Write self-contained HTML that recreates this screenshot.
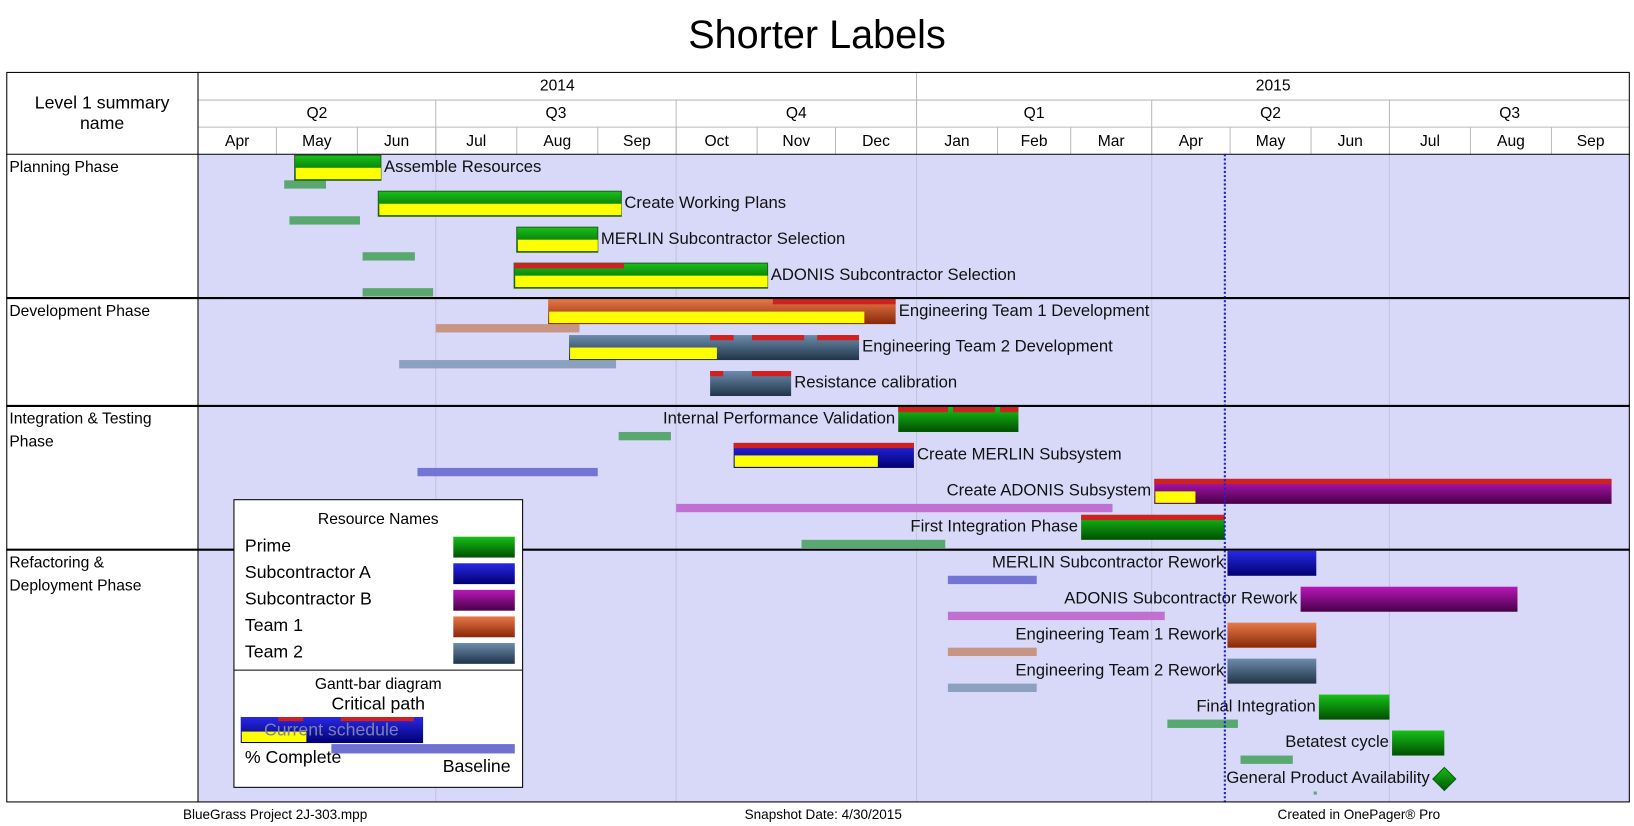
<!DOCTYPE html>
<html><head><meta charset="utf-8"><style>
body{margin:0;background:#fff;width:1634px;height:826px;overflow:hidden;font-family:"Liberation Sans",sans-serif}
svg{display:block}
svg text{font-family:"Liberation Sans",sans-serif}
</style></head><body>
<svg id="g" width="1634" height="826" viewBox="0 0 1568 792.6" preserveAspectRatio="none" xmlns="http://www.w3.org/2000/svg">
<defs>
<linearGradient id="gPrime" x1="0" y1="0" x2="0" y2="1"><stop offset="0" stop-color="#18c018"/><stop offset="1" stop-color="#005000"/></linearGradient>
<linearGradient id="gSubA" x1="0" y1="0" x2="0" y2="1"><stop offset="0" stop-color="#2828e8"/><stop offset="1" stop-color="#000070"/></linearGradient>
<linearGradient id="gSubB" x1="0" y1="0" x2="0" y2="1"><stop offset="0" stop-color="#b818b8"/><stop offset="1" stop-color="#480048"/></linearGradient>
<linearGradient id="gTeam1" x1="0" y1="0" x2="0" y2="1"><stop offset="0" stop-color="#e87848"/><stop offset="1" stop-color="#882808"/></linearGradient>
<linearGradient id="gTeam2" x1="0" y1="0" x2="0" y2="1"><stop offset="0" stop-color="#6c8cac"/><stop offset="1" stop-color="#203448"/></linearGradient>
</defs>
<text x="784" y="46" font-size="38" text-anchor="middle">Shorter Labels</text>
<rect x="190" y="148" width="1374" height="622" fill="#d8d8f8"/>
<g id="grid"></g>
<g id="hdr"></g>
<g id="bars"></g>
<rect x="6.5" y="69.5" width="1557" height="700" fill="none" stroke="#000"/>
<line x1="190" y1="69" x2="190" y2="770" stroke="#000"/>
<text x="98" y="104" font-size="17" text-anchor="middle">Level 1 summary</text>
<text x="98" y="124" font-size="17" text-anchor="middle">name</text>
<g id="phases"></g>
<g>
<rect x="224.5" y="479.5" width="277" height="276" fill="#fff" stroke="#000"/>
<text x="363" y="503" font-size="15" text-anchor="middle">Resource Names</text>
<g id="legend"></g>
<line x1="225" y1="643" x2="501" y2="643" stroke="#000"/>
<text x="363" y="661" font-size="15" text-anchor="middle">Gantt-bar diagram</text>
<text x="363" y="681" font-size="17" text-anchor="middle">Critical path</text>
<rect x="231" y="688" width="175" height="25" fill="url(#gSubA)"/>
<rect x="267" y="688" width="24" height="4" fill="#d02020"/><rect x="327" y="688" width="70" height="4" fill="#d02020"/>
<rect x="232" y="702" width="62" height="10" fill="#ffff00"/>
<text x="318" y="706" font-size="17" fill="#8080b0" text-anchor="middle">Current schedule</text>
<rect x="318" y="714" width="176" height="9" fill="#7070d0"/>
<text x="235" y="732" font-size="17">% Complete</text>
<text x="490" y="741" font-size="17" text-anchor="end">Baseline</text>
</g>
<text x="264" y="786" font-size="13" text-anchor="middle">BlueGrass Project 2J-303.mpp</text>
<text x="790" y="786" font-size="13" text-anchor="middle">Snapshot Date: 4/30/2015</text>
<text x="1304" y="786" font-size="13" text-anchor="middle">Created in OnePager® Pro</text>
</svg>
<script>
const taskNames=["Assemble Resources","Create Working Plans","MERLIN Subcontractor Selection","ADONIS Subcontractor Selection","Engineering Team 1 Development","Engineering Team 2 Development","Resistance calibration","Internal Performance Validation","Create MERLIN Subsystem","Create ADONIS Subsystem","First Integration Phase","MERLIN Subcontractor Rework","ADONIS Subcontractor Rework","Engineering Team 1 Rework","Engineering Team 2 Rework","Final Integration","Betatest cycle","General Product Availability"];
const taskStart=["2014-05-08","2014-06-09","2014-08-01","2014-07-31","2014-08-13","2014-08-21","2014-10-14","2014-12-25","2014-10-23","2015-04-02","2015-03-05","2015-04-30","2015-05-28","2015-04-30","2015-04-30","2015-06-04","2015-07-02","2015-07-22"];
const taskEnd=["2014-06-10","2014-09-10","2014-09-01","2014-11-05","2014-12-24","2014-12-10","2014-11-14","2015-02-09","2014-12-31","2015-09-24","2015-04-29","2015-06-03","2015-08-19","2015-06-03","2015-06-03","2015-07-01","2015-07-22","2015-07-22"];
const taskProgress=[1,1,1,1,0.91,0.51,0,0,0.8,0.09,0,0,0,0,0,0,0,0];
const taskResource=["Prime","Prime","Prime","Prime","Team1","Team2","Team2","Prime","SubA","SubB","Prime","SubA","SubB","Team1","Team2","Prime","Prime","Prime"];
const labelLeft=[0,0,0,0,0,0,0,1,0,1,1,1,1,1,1,1,1,1];
const baseStart=["2014-05-04","2014-05-06","2014-06-03","2014-06-03","2014-07-01","2014-06-17",null,"2014-09-09","2014-06-24","2014-10-01","2014-11-18","2015-01-13","2015-01-13","2015-01-13","2015-01-13","2015-04-07","2015-05-05","2015-06-02"];
const baseEnd=["2014-05-20","2014-06-02","2014-06-23","2014-06-30","2014-08-25","2014-09-08",null,"2014-09-29","2014-09-01","2015-03-17","2015-01-12","2015-02-16","2015-04-06","2015-02-16","2015-02-16","2015-05-04","2015-05-25","2015-06-02"];
const critTask=[3,4,5,5,5,6,6,7,7,7,8,9,10];
const critStart=["2014-07-31","2014-11-07","2014-10-14","2014-10-30","2014-11-24","2014-10-14","2014-10-30","2014-12-25","2015-01-15","2015-02-02","2014-10-23","2015-04-02","2015-03-05"];
const critEnd=["2014-09-11","2014-12-24","2014-10-23","2014-11-19","2014-12-10","2014-10-19","2014-11-14","2015-01-13","2015-01-31","2015-02-09","2014-12-31","2015-09-24","2015-04-29"];
const phaseNames=[["Planning Phase"],["Development Phase"],["Integration & Testing","Phase"],["Refactoring &","Deployment Phase"]];
const phaseFirstTask=[0,4,7,11];
const currentDate="2015-04-29";
const monthLabels=["Apr","May","Jun","Jul","Aug","Sep","Oct","Nov","Dec","Jan","Feb","Mar","Apr","May","Jun","Jul","Aug","Sep"];
const quarterLabels=["Q2","Q3","Q4","Q1","Q2","Q3"];
const yearLabels=["2014","2015"];
const resourceNames=["Prime","Subcontractor A","Subcontractor B","Team 1","Team 2"];
const resourceKeys=["Prime","SubA","SubB","Team1","Team2"];

const NS="http://www.w3.org/2000/svg";
const X0=190,X1=1564,T0=Date.UTC(2014,3,1),T1=Date.UTC(2015,9,1);
function x(d){const t=Date.parse(d+"T00:00:00Z");return X0+(t-T0)/(T1-T0)*(X1-X0);}
function mk(p,tag,a,txt){const e=document.createElementNS(NS,tag);for(const k in a)e.setAttribute(k,a[k]);if(txt!=null)e.textContent=txt;p.appendChild(e);return e;}
function rowY(i){return 149+i*34.5;}
const fills={Prime:"url(#gPrime)",SubA:"url(#gSubA)",SubB:"url(#gSubB)",Team1:"url(#gTeam1)",Team2:"url(#gTeam2)"};
const baseCol={Prime:"#58a870",SubA:"#7474d4",SubB:"#c070d0",Team1:"#c89484",Team2:"#8ca0c0"};
const grid=document.getElementById("grid"),hdr=document.getElementById("hdr"),bars=document.getElementById("bars");
function mdate(i){const y=2014+Math.floor((3+i)/12),m=(3+i)%12;return y+"-"+String(m+1).padStart(2,"0")+"-01";}
monthLabels.forEach((m,i)=>{const a=x(mdate(i)),b=x(mdate(i+1));
 const t=mk(hdr,"text",{x:(a+b)/2,y:140,"font-size":15,"text-anchor":"middle"},m);
 
 
 if(i>0)mk(hdr,"line",{x1:a,y1:122,x2:a,y2:148,stroke:"#bbb"});});
quarterLabels.forEach((q,i)=>{const a=x(mdate(i*3)),b=x(mdate(i*3+3));
 const t=mk(hdr,"text",{x:(a+b)/2,y:113,"font-size":15,"text-anchor":"middle"},q);
 
 
 if(i>0){mk(hdr,"line",{x1:a,y1:96,x2:a,y2:148,stroke:"#bbb"});mk(grid,"line",{x1:a,y1:148,x2:a,y2:770,stroke:"#c4c4dc"});}});
yearLabels.forEach((y,i)=>{const a=x(i?"2015-01-01":"2014-04-01"),b=x(i?"2015-10-01":"2015-01-01");
 const t=mk(hdr,"text",{x:(a+b)/2,y:87,"font-size":15,"text-anchor":"middle"},y);
 
 
 if(i>0)mk(hdr,"line",{x1:a,y1:69,x2:a,y2:148,stroke:"#bbb"});});
mk(hdr,"line",{x1:190,y1:96,x2:1564,y2:96,stroke:"#bbb"});
mk(hdr,"line",{x1:190,y1:122,x2:1564,y2:122,stroke:"#bbb"});
mk(hdr,"line",{x1:6,y1:148,x2:1564,y2:148,stroke:"#000"});
const ph=document.getElementById("phases");
phaseNames.forEach((n,i)=>{const y=i?rowY(phaseFirstTask[i])-1:148;
 if(i)mk(ph,"line",{x1:6,y1:y,x2:1564,y2:y,stroke:"#000","stroke-width":2});
 n.forEach((s,j)=>{const t=mk(ph,"text",{x:9,y:y+17+j*22,"font-size":15},s);
 
 });});
taskNames.forEach((n,i)=>{if(!baseStart[i])return;const a=x(baseStart[i]),b=x(baseEnd[i]),y=rowY(i)+24;
 const r=mk(bars,"rect",{x:a,y:y,width:Math.max(b-a,3),height:i==17?3:8,fill:baseCol[taskResource[i]]});
 
 });
taskNames.forEach((n,i)=>{const a=x(taskStart[i]),b=x(taskEnd[i]),y=rowY(i);let lx;
 if(i==17){const cy=y+12;const d=mk(bars,"path",{d:`M${a} ${cy-11}L${a+11} ${cy}L${a} ${cy+11}L${a-11} ${cy}Z`,fill:"url(#gPrime)",stroke:"#060"});
  
  
  lx=a-14;}
 else{const r=mk(bars,"rect",{x:a,y:y,width:b-a,height:24,fill:fills[taskResource[i]]});
  
  
  if(taskProgress[i]>0){const p=mk(bars,"rect",{x:a+1,y:y+12,width:(b-a)*taskProgress[i]-1,height:11,fill:"#ffff00"});
   
   
   if(taskResource[i]=="Prime")r.setAttribute("stroke","#206020");}
  lx=labelLeft[i]?a-3:b+3;}
 const t=mk(bars,"text",{x:lx,y:y+16,"font-size":16,"text-anchor":labelLeft[i]?"end":"start",fill:"#111"},n);
 
 });
critTask.forEach((ti,k)=>{const a=x(critStart[k]),b=x(critEnd[k]);
 const r=mk(bars,"rect",{x:a,y:rowY(ti),width:b-a,height:5,fill:"#d02020"});
 
 });
const cl=mk(bars,"line",{x1:x(currentDate),y1:148,x2:x(currentDate),y2:770,stroke:"#2020d0","stroke-width":2,"stroke-dasharray":"2,2"});


const lg=document.getElementById("legend");
resourceNames.forEach((n,i)=>{const y=515+i*25.5;
 const t=mk(lg,"text",{x:235,y:y+14,"font-size":17},n);
 
 
 const s=mk(lg,"rect",{x:435,y:y,width:59,height:20,fill:fills[resourceKeys[i]]});
 
 });
</script>
</body></html>
